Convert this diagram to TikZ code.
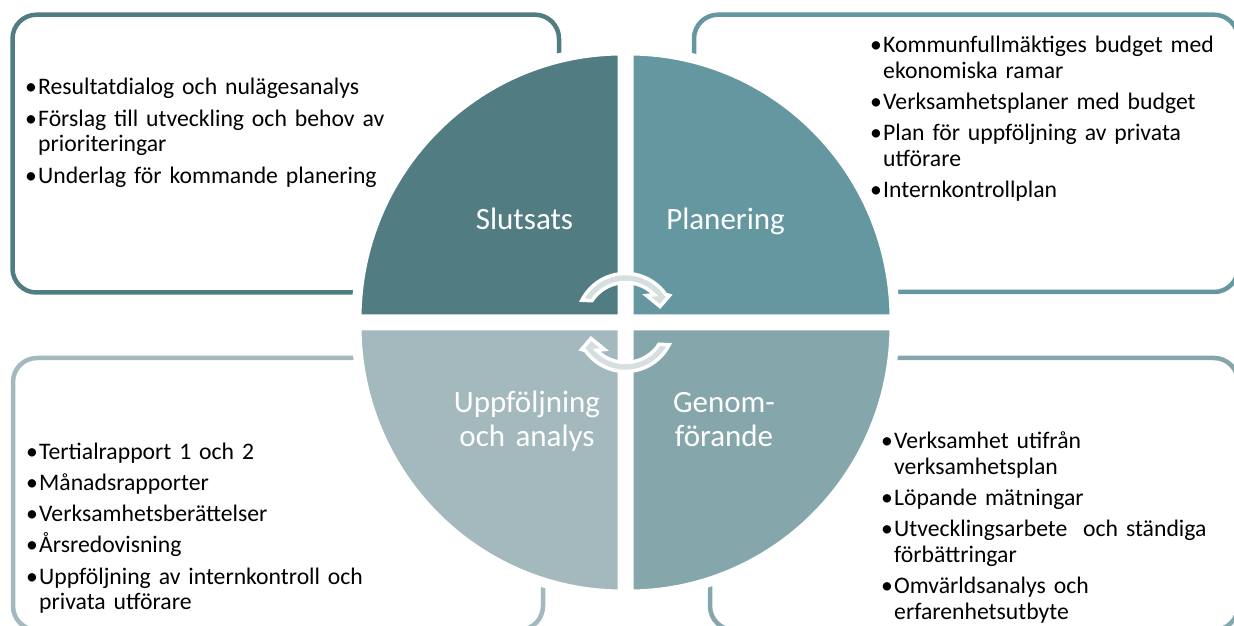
\documentclass[tikz,border=0pt]{standalone}
\usepackage{fontspec}
\setmainfont{Carlito}
\definecolor{slutsatsc}{HTML}{507C82}
\definecolor{planeringc}{HTML}{6497A0}
\definecolor{uppfoljc}{HTML}{A3B9BE}
\definecolor{genomc}{HTML}{85A6AB}
\definecolor{turnc}{HTML}{D6DFE0}
\newcommand\bul[1]{\hangindent=13pt\hangafter=1\makebox[13pt][l]{\textbullet}#1\par}
\begin{document}
\begin{tikzpicture}[x=1pt,y=1pt,
				box/.style={rounded corners=24pt,line width=4.5pt},
				quad/.style={draw=white,line width=10pt},
				phase/.style={text=white,font=\fontsize{31}{34}\selectfont,text width=200pt,align=center,inner sep=0pt,anchor=base},
				list/.style={font=\fontsize{23.7}{25.8}\selectfont,text width=400pt,inner sep=0pt,anchor=base west,
					execute at begin node={\setlength{\parskip}{5.4pt}}},
				turn/.style={fill=turnc,draw=white,line width=3.5pt}]
\useasboundingbox (0,0) rectangle (1234,626);
\clip (0,0) rectangle (1234,626);
\draw[box,draw=slutsatsc] (12.5,333.5) rectangle (559,611.3);
\draw[box,draw=planeringc] (694,334) rectangle (1238,611.3);
\draw[box,draw=uppfoljc] (13,-4) rectangle (543,268);
\draw[box,draw=genomc] (710,-4) rectangle (1238,268);
\coordinate (c) at (625.5,303.5);
\filldraw[quad,fill=slutsatsc] ([shift={(-3,3)}]c) -- ++(-266,0) arc[start angle=180,end angle=90,x radius=266,y radius=269] -- cycle;
\filldraw[quad,fill=planeringc] ([shift={(3,3)}]c) -- ++(0,269) arc[start angle=90,end angle=0,x radius=266,y radius=269] -- cycle;
\filldraw[quad,fill=genomc] ([shift={(3,-3)}]c) -- ++(266,0) arc[start angle=0,end angle=-90,x radius=266,y radius=269] -- cycle;
\filldraw[quad,fill=uppfoljc] ([shift={(-3,-3)}]c) -- ++(0,-269) arc[start angle=270,end angle=180,x radius=266,y radius=269] -- cycle;
\foreach \r in {0,180}
	\filldraw[turn,shift={(c)},rotate=\r] (153:49) arc[start angle=153,end angle=35,radius=49]
		-- (44,27) -- (34.5,16) -- (21,27) -- (44:40) arc[start angle=44,end angle=147,radius=40] -- cycle;
\node[phase] (slutsats) at (524.5,396) {Slutsats};
\node[phase] (planering) at (725.5,396) {Planering};
\node[phase] (uppfoljning) at (527,213) {Uppföljning\\och analys};
\node[phase] (genomforande) at (724,213) {Genom-\\förande};
\node[list] (slutsatslist) at (25,531) {%
	\bul{Resultatdialog och nulägesanalys}
	\bul{Förslag till utveckling och behov av\newline prioriteringar}
	\bul{Underlag för kommande planering}};
\node[list] (planeringlist) at (870,573.3) {%
	\bul{Kommunfullmäktiges budget med\newline ekonomiska ramar}
	\bul{Verksamhetsplaner med budget}
	\bul{Plan för uppföljning av privata\newline utförare}
	\bul{Internkontrollplan}};
\node[list] (uppfoljlist) at (26,166.7) {%
	\bul{Tertialrapport 1 och 2}
	\bul{Månadsrapporter}
	\bul{Verksamhetsberättelser}
	\bul{Årsredovisning}
	\bul{Uppföljning av internkontroll och\newline privata utförare}};
\node[list] (genomlist) at (881,177.7) {%
	\bul{Verksamhet utifrån\newline verksamhetsplan}
	\bul{Löpande mätningar}
	\bul{Utvecklingsarbete\ \ och ständiga\newline förbättringar}
	\bul{Omvärldsanalys och\newline erfarenhetsutbyte}};
\end{tikzpicture}
\end{document}
